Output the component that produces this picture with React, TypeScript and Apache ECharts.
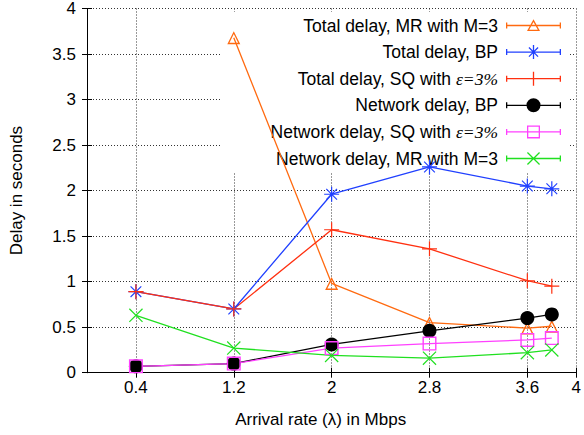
import React, { useEffect, useRef } from "react";
import * as echarts from "echarts";

const xValues = [0.4, 1.2, 2, 2.8, 3.6, 3.8];
const xTickValues = [0.4, 1.2, 2, 2.8, 3.6, 4];

const seriesNames = [
  "Total delay, MR with M=3",
  "Total delay, BP",
  "Total delay, SQ with ε=3%",
  "Network delay, BP",
  "Network delay, SQ with ε=3%",
  "Network delay, MR with M=3",
];

const totalMR: (number | null)[] = [null, 3.68, 0.98, 0.55, 0.49, 0.51];
const totalBP = [0.89, 0.7, 1.96, 2.26, 2.05, 2.02];
const totalSQ = [0.89, 0.7, 1.57, 1.36, 1.01, 0.95];
const netBP = [0.07, 0.1, 0.31, 0.46, 0.6, 0.64];
const netSQ = [0.07, 0.1, 0.27, 0.32, 0.36, 0.38];
const netMR = [0.63, 0.27, 0.19, 0.16, 0.22, 0.25];

const FONT = '"Liberation Sans", Arial, Helvetica, sans-serif';

const SYM_TRI = "path://M10,0L20,18L0,18ZM10,4.12L3.4,16L16.6,16Z";
const SYM_SQUARE = "path://M0,0H20V20H0ZM2,2V18H18V2Z";
const SYM_PLUS = "path://M9.2,0h1.6v9.2h9.2v1.6h-9.2v9.2h-1.6v-9.2h-9.2v-1.6h9.2z";
const SYM_X = "path://M0,1.2L1.2,0L20,18.8L18.8,20ZM18.8,0L20,1.2L1.2,20L0,18.8Z";
const SYM_STAR =
  "path://M9.2,0h1.6v9.2h9.2v1.6h-9.2v9.2h-1.6v-9.2h-9.2v-1.6h9.2zM2.3,3.4L3.4,2.3L17.7,16.6L16.6,17.7ZM16.6,2.3L17.7,3.4L3.4,17.7L2.3,16.6Z";

// legend sample: line with error-bar caps, marker in the middle (box 55 x 17)
const LEG_BASE = "M0,0M55,17M0,7.85H55V9.15H0ZM0,5.5H1.3V11.5H0ZM53.7,5.5H55V11.5H53.7Z";
const LEG_ICONS = [
  "path://" + LEG_BASE + "M27.5,2.3L34,14L21,14ZM27.5,4.98L23.21,12.7L31.79,12.7Z",
  "path://" + LEG_BASE + "M26.85,1.5H28.15V15.5H26.85ZM22.5,4.4L23.4,3.5L32.5,12.6L31.6,13.5ZM31.6,3.5L32.5,4.4L23.4,13.5L22.5,12.6Z",
  "path://" + LEG_BASE + "M26.85,1.5H28.15V15.5H26.85Z",
  "path://" + LEG_BASE + "M20.5,8.5A7,7 0 0,1 34.5,8.5A7,7 0 0,1 20.5,8.5Z",
  "path://" + LEG_BASE + "M21,2H34V15H21ZM22.3,3.3V13.7H32.7V3.3Z",
  "path://" + LEG_BASE + "M21,2.9L21.9,2L34,14.1L33.1,15ZM33.1,2L34,2.9L21.9,15L21,14.1Z",
];

function mkSeries(name: string, values: (number | null)[], color: string, symbol: string, size: number) {
  return {
    type: "line",
    name,
    data: xValues
      .map((x, i) => [x, values[i]])
      .filter((p) => p[1] !== null),
    symbol,
    symbolSize: size,
    showSymbol: true,
    lineStyle: { color, width: 1.3 },
    itemStyle: { color },
    z: 2,
    clip: false,
  };
}

export default function App() {
  const ref = useRef<HTMLDivElement>(null);
  useEffect(() => {
    if (!ref.current) return;
    const chart = echarts.init(ref.current, undefined, { renderer: "svg" });
    const axisLine = { show: true, lineStyle: { color: "#000", width: 1 } };
    chart.setOption({
      animation: false,
      textStyle: { fontFamily: FONT },
      grid: { left: 85, right: 4, top: 7.5, bottom: 62.3, containLabel: false },
      legend: {
        orient: "vertical",
        align: "right",
        right: 15,
        top: 12,
        itemWidth: 55,
        itemHeight: 17,
        itemGap: 8.6,
        padding: [4.5, 8, 4.5, 50],
        backgroundColor: "#fff",
        itemStyle: { borderWidth: 0 },
        z: 1,
        data: seriesNames.map((n, i) => ({ name: n, icon: LEG_ICONS[i] })),
        formatter: (name: string) => name.replace("ε=3%", "{e|ε=3%}"),
        textStyle: {
          fontFamily: FONT,
          fontSize: 17.5,
          color: "#000",
          padding: [0, 3, 0, 0],
          rich: {
            e: {
              fontFamily: '"Liberation Serif", "DejaVu Serif", serif',
              fontStyle: "italic",
              fontSize: 17.5,
              color: "#000",
            },
          },
        },
      },
      xAxis: [
        {
          type: "value",
          min: 0,
          max: 4,
          position: "bottom",
          name: "Arrival rate (λ) in Mbps",
          nameLocation: "middle",
          nameGap: 38,
          nameTextStyle: { fontSize: 17, color: "#000", fontFamily: FONT, padding: [0, 22, 0, 0] },
          axisLine,
          axisTick: { show: true, inside: true, length: 5, customValues: xTickValues, lineStyle: { color: "#000" } },
          axisLabel: { show: true, customValues: xTickValues, fontSize: 17, color: "#000", margin: 6, fontFamily: FONT },
          splitLine: { show: true, lineStyle: { color: "#333", type: [1, 2], width: 1 } },
        },
        {
          type: "value",
          min: 0,
          max: 4,
          position: "top",
          axisLine,
          axisTick: { show: true, inside: true, length: 5, customValues: xTickValues, lineStyle: { color: "#000" } },
          axisLabel: { show: false },
          splitLine: { show: false },
        },
      ],
      yAxis: [
        {
          type: "value",
          min: 0,
          max: 4,
          interval: 0.5,
          position: "left",
          name: "Delay in seconds",
          nameLocation: "middle",
          nameGap: 62,
          nameTextStyle: { fontSize: 17, color: "#000", fontFamily: FONT },
          axisLine,
          axisTick: { show: true, inside: true, length: 5, lineStyle: { color: "#000" } },
          axisLabel: { show: true, fontSize: 17, color: "#000", margin: 11, fontFamily: FONT },
          splitLine: { show: true, lineStyle: { color: "#333", type: [1, 2], width: 1 } },
        },
        {
          type: "value",
          min: 0,
          max: 4,
          interval: 0.5,
          position: "right",
          axisLine,
          axisTick: { show: true, inside: true, length: 5, lineStyle: { color: "#000" } },
          axisLabel: { show: false },
          splitLine: { show: false },
        },
      ],
      series: [
        mkSeries(seriesNames[0], totalMR, "#ff6a10", SYM_TRI, 13),
        mkSeries(seriesNames[1], totalBP, "#2040ff", SYM_STAR, 15),
        mkSeries(seriesNames[2], totalSQ, "#ff3010", SYM_PLUS, 15),
        mkSeries(seriesNames[3], netBP, "#000000", "circle", 14),
        mkSeries(seriesNames[4], netSQ, "#ff40ff", SYM_SQUARE, 14),
        mkSeries(seriesNames[5], netMR, "#20e020", SYM_X, 14),
      ],
    });
    return () => chart.dispose();
  }, []);
  return <div ref={ref} style={{ width: 584, height: 435, position: "absolute", left: 0, top: 0 }} />;
}
